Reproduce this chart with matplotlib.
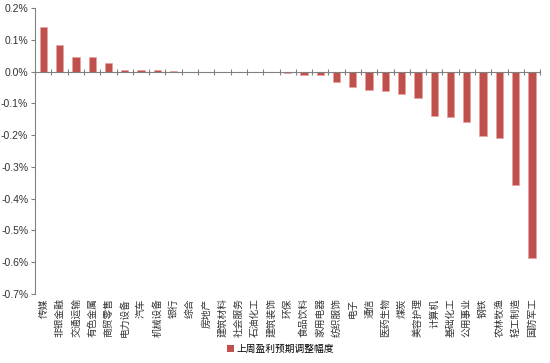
import numpy as np
import matplotlib.pyplot as plt
from matplotlib.patches import Patch
import matplotlib.transforms as mtransforms

plt.rcParams['font.family'] = ['Noto Sans CJK SC', 'DejaVu Sans']

# 行业与上周盈利预期调整幅度(%)
industries = ['传媒', '非银金融', '交通运输', '有色金属', '商贸零售', '电力设备', '汽车',
              '机械设备', '银行', '综合', '房地产', '建筑材料', '社会服务', '石油化工',
              '建筑装饰', '环保', '食品饮料', '家用电器', '纺织服饰', '电子', '通信',
              '医药生物', '煤炭', '美容护理', '计算机', '基础化工', '公用事业', '钢铁',
              '农林牧渔', '轻工制造', '国防军工']
values = [0.139, 0.084, 0.047, 0.045, 0.027, 0.006, 0.006,
          0.004, 0.003, 0.0, 0.0, 0.0, 0.0, -0.001,
          -0.002, -0.005, -0.011, -0.011, -0.033, -0.050, -0.059,
          -0.062, -0.071, -0.082, -0.140, -0.143, -0.159, -0.203,
          -0.210, -0.358, -0.587]
yticks = [0.2, 0.1, 0.0, -0.1, -0.2, -0.3, -0.4, -0.5, -0.6, -0.7]
legend_label = '上周盈利预期调整幅度'

bar_color = '#C0504D'
axis_color = '#808080'

fig = plt.figure(figsize=(5.5, 3.63), dpi=100)
ax = fig.add_axes([0.064, 0.19, 0.918, 0.788])

x = np.arange(len(industries))
ax.bar(x, values, width=0.45, color=bar_color, edgecolor='#E8A0A0', linewidth=0.5, zorder=2)

ax.set_xlim(-0.5, len(industries) - 0.5)
ax.set_ylim(-0.7, 0.2)
ax.set_yticks(yticks)
ax.set_yticklabels([f'{v:.1f}%' for v in yticks], fontsize=7.5, color='#333333',
                   family=['Liberation Sans', 'DejaVu Sans'])

for s in ['top', 'right']:
    ax.spines[s].set_visible(False)
ax.spines['left'].set_color(axis_color)
ax.spines['bottom'].set_color(axis_color)
ax.spines['bottom'].set_position(('data', 0))
ax.tick_params(axis='y', color=axis_color, length=3, width=0.8, pad=2)

# x轴刻度在类别之间
ax.set_xticks(np.arange(len(industries) + 1) - 0.5)
ax.set_xticklabels([])
ax.tick_params(axis='x', direction='inout', length=4, color=axis_color, width=0.8)

# 行业名称放在图底部
trans = mtransforms.blended_transform_factory(ax.transData, ax.transAxes)
for xi, name in zip(x, industries):
    ax.text(xi, -0.015, name, transform=trans, rotation=90, ha='center', va='top',
            fontsize=7, color='#333333')

handle = Patch(facecolor=bar_color, edgecolor='none')
fig.legend([handle], [legend_label], loc='center', bbox_to_anchor=(0.51, 0.038),
           frameon=False, fontsize=7, handlelength=0.7, handleheight=0.7, handletextpad=0.3)

fig.savefig('out.png', dpi=100)
